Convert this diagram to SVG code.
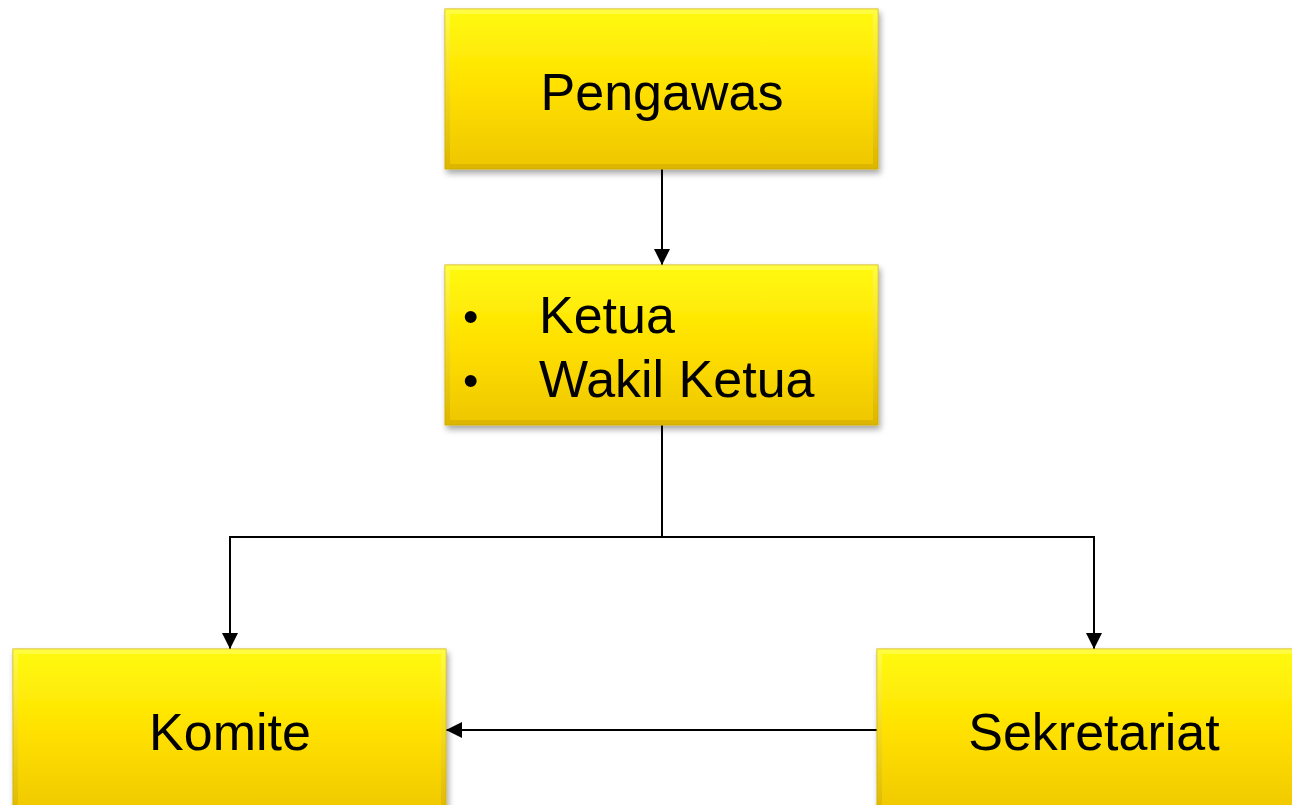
<svg xmlns="http://www.w3.org/2000/svg" width="1292" height="805" viewBox="0 0 1292 805">
<style>
.box{fill:url(#yg);stroke:#d4b400;stroke-width:1}
.bev{fill:none;stroke:url(#bv);stroke-width:5;opacity:0.45}
.t{font-family:"Liberation Sans",Arial,sans-serif;font-size:52px;fill:#000}
.b{font-family:"Liberation Sans",Arial,sans-serif;font-size:44px;fill:#000}
.c{fill:none;stroke:#000;stroke-width:2}
</style>
<defs>
<linearGradient id="yg" x1="0" y1="0" x2="0" y2="1">
<stop offset="0" stop-color="#FFFA10"/>
<stop offset="0.5" stop-color="#FFE000"/>
<stop offset="1" stop-color="#EEC600"/>
</linearGradient>
<linearGradient id="bv" x1="0" y1="0" x2="0" y2="1">
<stop offset="0" stop-color="#FFFF80"/>
<stop offset="1" stop-color="#C9A200"/>
</linearGradient>
<filter id="sh" x="-5%" y="-5%" width="112%" height="120%">
<feGaussianBlur in="SourceAlpha" stdDeviation="3"/>
<feOffset dx="2" dy="4" result="o"/>
<feComponentTransfer><feFuncA type="linear" slope="0.35"/></feComponentTransfer>
<feMerge><feMergeNode/><feMergeNode in="SourceGraphic"/></feMerge>
</filter>
<marker id="ah" markerWidth="16" markerHeight="16" refX="16" refY="8" orient="auto" markerUnits="userSpaceOnUse">
<path d="M0,0 L16,8 L0,16 Z" fill="#000"/>
</marker>
</defs>
<rect width="1292" height="805" fill="#fff"/>
<g id="connectors">
<path class="c" d="M662,169 V265" marker-end="url(#ah)"/>
<path class="c" d="M662,425 V537 H230 V649" marker-end="url(#ah)"/>
<path class="c" d="M662,537 H1094 V649" marker-end="url(#ah)"/>
<path class="c" d="M877,730 H446" marker-end="url(#ah)"/>
</g>
<g id="pengawas" filter="url(#sh)">
<rect class="box" x="445" y="9" width="433" height="160"/>
<rect class="bev" x="447.5" y="11.5" width="428" height="155"/>
<text class="t" x="662" y="110" text-anchor="middle">Pengawas</text>
</g>
<g id="ketua" filter="url(#sh)">
<rect class="box" x="445" y="265" width="433" height="160"/>
<rect class="bev" x="447.5" y="267.5" width="428" height="155"/>
<text class="b" x="463" y="332">•</text>
<text class="t" x="539" y="333">Ketua</text>
<text class="b" x="463" y="396">•</text>
<text class="t" x="539" y="397">Wakil Ketua</text>
</g>
<g id="komite" filter="url(#sh)">
<rect class="box" x="13" y="649" width="433" height="170"/>
<rect class="bev" x="15.5" y="651.5" width="428" height="165"/>
<text class="t" x="230" y="750" text-anchor="middle">Komite</text>
</g>
<g id="sekretariat" filter="url(#sh)">
<rect class="box" x="877" y="649" width="433" height="170"/>
<rect class="bev" x="879.5" y="651.5" width="428" height="165"/>
<text class="t" x="1094" y="750" text-anchor="middle">Sekretariat</text>
</g>
</svg>
